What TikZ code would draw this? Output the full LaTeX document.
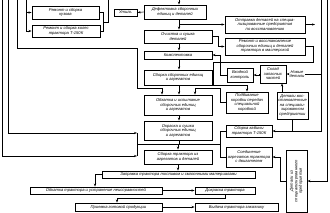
\documentclass[tikz,border=0pt]{standalone}
\usepackage{fontspec}
\setmainfont{Liberation Sans}
\usetikzlibrary{arrows.meta}
\begin{document}
\begin{tikzpicture}[x=1pt,y=-1pt,
  box/.style={draw,line width=0.9pt,inner sep=0pt,align=center,
    font=\fontsize{4.1}{4.5}\selectfont\itshape},
  ln/.style={line width=0.6pt},
  arr/.style={line width=0.6pt,-{Stealth[length=3pt,width=2.2pt]}},
  lbl/.style={inner sep=0pt,align=center,font=\fontsize{4.1}{4.5}\selectfont\itshape}]
\useasboundingbox (0,0) rectangle (330,213);
% boxes
\node[box,minimum width=67pt,minimum height=13pt] (A1) at (65.5,12.5) {Ремонт и сборка\\кузова};
\node[box,minimum width=68pt,minimum height=12pt] (A2) at (66,31) {Ремонт и сборка колес\\трактора Т-150К};
\node[box,minimum width=23pt,minimum height=7pt] (util) at (125.5,12.5) {Утиль};
\node[box,minimum width=62pt,minimum height=14pt] (def) at (175,12) {Дефектовка сборочных\\единиц и деталей};
\node[box,minimum width=68pt,minimum height=13pt] (och) at (178,36.5) {Очистка и сушка\\деталей};
\node[box,minimum width=68pt,minimum height=8pt] (komp) at (178,55) {Комплектовка};
\node[box,minimum width=68pt,minimum height=15pt] (sb) at (178,77.5) {Сборка сборочных единиц\\и агрегатов};
\node[box,minimum width=68pt,minimum height=20pt] (obk) at (178,105) {Обкатка и испытание\\сборочных единиц\\и агрегатов};
\node[box,minimum width=68pt,minimum height=19pt] (okr) at (178,130.5) {Окраска и сушка\\сборочных единиц\\и агрегатов};
\node[box,minimum width=68pt,minimum height=14pt] (sbt) at (178,157) {Сборка трактора из\\агрегатов и деталей};
\node[box,minimum width=80pt,minimum height=17pt] (otpr) at (265,24.5) {Отправка деталей на специа-\\лизированные предприятия\\по восстановлению};
\node[box,minimum width=80pt,minimum height=17pt] (rem) at (265,46.5) {Ремонт и восстановление\\сборочных единиц и деталей\\трактора в мастерской};
\node[box,minimum width=26pt,minimum height=14pt] (vkh) at (240,75) {Входной\\контроль};
\node[box,minimum width=26pt,minimum height=18pt] (sklad) at (273,74) {Склад\\запасных\\частей};
\node[lbl] (nov) at (297,74) {Новые\\детали};
\node[box,minimum width=42pt,minimum height=21pt] (srav) at (247,102.5) {Подбивание\\коробки передач\\специальной\\коробкой};
\node[box,minimum width=31pt,minimum height=27pt] (detv) at (292.5,105.5) {Детали вос-\\становленные\\на специали-\\зированном\\предприятии};
\node[box,minimum width=46pt,minimum height=12pt] (kab) at (249,131) {Сборка кабины\\трактора Т-150К};
\node[box,minimum width=46pt,minimum height=20pt] (soed) at (249,157) {Соединение\\агрегатов трактора\\с двигателем};
\node[box,minimum width=62pt,minimum height=21pt,rotate=90] (detsp) at (296.5,181) {Детали из\\специализированного\\предприятия};
\node[box,minimum width=153pt,minimum height=7pt] (zapr) at (178.5,174.5) {Заправка трактора топливом и смазочными материалами};
\node[box,minimum width=132pt,minimum height=7pt] (obktr) at (96,190.5) {Обкатка трактора и устранение неисправностей};
\node[box,minimum width=60pt,minimum height=7pt] (dokr) at (225,190.5) {Докраска трактора};
\node[box,minimum width=87pt,minimum height=8pt] (priem) at (118.5,207) {Приемка готовой продукции};
\node[box,minimum width=83pt,minimum height=8pt] (vyd) at (236.5,207) {Выдача трактора заказчику};
% coordinates
\coordinate (t2) at (2,0);
\coordinate (t8) at (8,0);
\coordinate (t17) at (17,0);
\coordinate (t26) at (26,0);
\coordinate (t108) at (108,0);
\coordinate (t179) at (179,0);
\coordinate (t321) at (321,0);
\coordinate (t327) at (327,0);
\coordinate (jL) at (137,144);
\coordinate (jR) at (220,144);
\coordinate (out) at (315,24.5);
% left feeds
\draw[ln] (t26) -- (t26 |- A2.west);
\draw[arr] (t26 |- A1.west) -- (A1.west);
\draw[arr] (t26 |- A2.west) -- (A2.west);
\draw[ln] (A1.east) -- ++(4,0) coordinate (m1) -- (m1 |- A2.east) -- (A2.east);
\draw[ln] (m1 |- 0,22) -- (t108 |- 0,22) -- (t108);
\draw[ln] (t17) -- (17,48) -- (137,48) -- (137,88) -- (162,88);
\draw[arr] (162,88) -- (obk.north -| 162,0);
\draw[arr] (t8) -- (8,133) -- (137,133);
\draw[arr] (t2) -- (2,156) -- (137,156);
\draw[ln] (137,133) -- (137,156);
\draw[ln] (jL) -- (jR);
\draw[arr] (sbt.north |- jL) -- (sbt.north);
% main chain
\draw[arr] (t179) -- (t179 |- def.north);
\draw[arr] (def.west) -- (util.east);
\draw[arr] (def.south -| t179) -- (och.north -| t179);
\draw[arr] (179,24.5) -- (otpr.west);
\draw[arr] (otpr.east) -- (out);
\draw[arr] (och.south -| t179) -- (komp.north -| t179);
\draw[arr] (komp.south -| t179) -- (sb.north -| t179);
\draw[arr] (sb.south -| t179) -- (obk.north -| t179);
\draw[arr] (obk.south -| t179) -- (okr.north -| t179);
\draw[ln] (okr.south -| t179) -- (t179 |- jL);
\draw[arr] (och.east) -- (218,36.5) -- (218,46.5) -- (rem.west);
\draw[arr] (rem.east) -- (313,46.5) -- (313,62) -- (213,62) -- (213,85) -- (247,85) -- (srav.north);
\draw[arr] (220,62) -- (220,55) -- (komp.east);
\draw[ln] (vkh.west) -- (220,75) -- (220,62);
\draw[arr] (sklad.west) -- (vkh.west -| sklad.west) -- (vkh.east);
\draw[arr] (srav.west) -- (220,102.5) -- (220,88) -- (195,88) -- (obk.north -| 195,0);
\draw[arr] (detv.north -| 282,0) -- (sklad.south -| 282,0);
\draw[arr] (t321) -- (321,131) -- (kab.east);
\draw[ln] (321,74) -- (nov.east);
\draw[arr] (nov.west) -- (sklad.east);
\draw[ln] (detv.south) -- (detv.south |- kab.east);
\draw[arr] (t327) -- (327,181) -- (detsp.south);
\draw[ln] (detsp.north) -- (280,181) -- (280,157);
\draw[arr] (280,157) -- (soed.east);
\draw[ln] (kab.west) -- (220,131) -- (220,157) -- (soed.west);
% bottom
\draw[arr] (sbt.south) -- (zapr.north -| sbt.south);
\draw[arr] (zapr.west) -- (95,174.5) -- (obktr.north -| 95,0);
\draw[arr] (obktr.east) -- (dokr.west);
\draw[arr] (dokr.south) -- (225,198) -- (117,198) -- (priem.north -| 117,0);
\draw[arr] (priem.east) -- (vyd.west);
\end{tikzpicture}
\end{document}
